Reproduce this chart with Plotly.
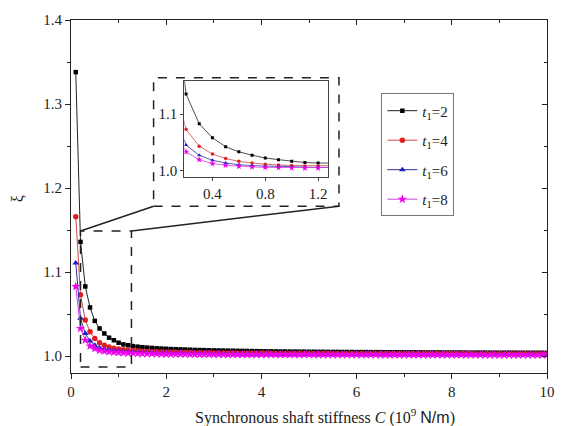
import plotly.graph_objects as go

# ---------------- data ----------------
C = [0.1, 0.2, 0.3, 0.4, 0.5, 0.6, 0.7, 0.8, 0.9, 1.0,
     1.1, 1.2, 1.3, 1.4, 1.5, 1.6, 1.7, 1.8, 1.9, 2.0,
     2.1, 2.2, 2.3, 2.4, 2.5, 2.6, 2.7, 2.8, 2.9, 3.0,
     3.1, 3.2, 3.3, 3.4, 3.5, 3.6, 3.7, 3.8, 3.9, 4.0,
     4.1, 4.2, 4.3, 4.4, 4.5, 4.6, 4.7, 4.8, 4.9, 5.0,
     5.1, 5.2, 5.3, 5.4, 5.5, 5.6, 5.7, 5.8, 5.9, 6.0,
     6.1, 6.2, 6.3, 6.4, 6.5, 6.6, 6.7, 6.8, 6.9, 7.0,
     7.1, 7.2, 7.3, 7.4, 7.5, 7.6, 7.7, 7.8, 7.9, 8.0,
     8.1, 8.2, 8.3, 8.4, 8.5, 8.6, 8.7, 8.8, 8.9, 9.0,
     9.1, 9.2, 9.3, 9.4, 9.5, 9.6, 9.7, 9.8, 9.9, 10.0]

xi_t2 = [1.338, 1.136, 1.083, 1.058, 1.042, 1.033, 1.027, 1.022, 1.019, 1.016,
         1.014, 1.013, 1.012, 1.0113, 1.0107, 1.0102, 1.0098, 1.0094, 1.0091, 1.0088,
         1.0085, 1.0083, 1.0081, 1.0079, 1.0077, 1.0075, 1.0073, 1.0072, 1.0070, 1.0069,
         1.0068, 1.0067, 1.0066, 1.0065, 1.0064, 1.0063, 1.0062, 1.0061, 1.0060, 1.0059,
         1.0058, 1.0058, 1.0057, 1.0056, 1.0056, 1.0055, 1.0055, 1.0054, 1.0054, 1.0053,
         1.0053, 1.0052, 1.0052, 1.0051, 1.0051, 1.0051, 1.0050, 1.0050, 1.0050, 1.0049,
         1.0049, 1.0049, 1.0048, 1.0048, 1.0048, 1.0047, 1.0047, 1.0047, 1.0047, 1.0046,
         1.0046, 1.0046, 1.0046, 1.0045, 1.0045, 1.0045, 1.0045, 1.0044, 1.0044, 1.0044,
         1.0044, 1.0044, 1.0043, 1.0043, 1.0043, 1.0043, 1.0043, 1.0042, 1.0042, 1.0042,
         1.0042, 1.0042, 1.0042, 1.0041, 1.0041, 1.0041, 1.0041, 1.0041, 1.0041, 1.0040]

xi_t4 = [1.166, 1.073, 1.043, 1.029, 1.021, 1.016, 1.013, 1.011, 1.0095, 1.0085,
         1.0078, 1.0072, 1.0067, 1.0063, 1.0060, 1.0057, 1.0054, 1.0052, 1.0050, 1.0048,
         1.0047, 1.0046, 1.0045, 1.0044, 1.0043, 1.0042, 1.0041, 1.0040, 1.0040, 1.0039,
         1.0038, 1.0038, 1.0037, 1.0037, 1.0036, 1.0036, 1.0035, 1.0035, 1.0035, 1.0034,
         1.0034, 1.0034, 1.0033, 1.0033, 1.0033, 1.0032, 1.0032, 1.0032, 1.0032, 1.0031,
         1.0031, 1.0031, 1.0031, 1.0031, 1.0030, 1.0030, 1.0030, 1.0030, 1.0030, 1.0030,
         1.0030, 1.0030, 1.0029, 1.0029, 1.0029, 1.0029, 1.0029, 1.0029, 1.0029, 1.0029,
         1.0029, 1.0029, 1.0028, 1.0028, 1.0028, 1.0028, 1.0028, 1.0028, 1.0028, 1.0028,
         1.0028, 1.0028, 1.0028, 1.0028, 1.0027, 1.0027, 1.0027, 1.0027, 1.0027, 1.0027,
         1.0027, 1.0027, 1.0027, 1.0027, 1.0027, 1.0026, 1.0026, 1.0026, 1.0026, 1.0026]

xi_t6 = [1.111, 1.045, 1.027, 1.018, 1.013, 1.010, 1.0085, 1.0075, 1.0068, 1.0062,
         1.0057, 1.0053, 1.0050, 1.0047, 1.0045, 1.0043, 1.0041, 1.0039, 1.0038, 1.0037,
         1.0036, 1.0035, 1.0034, 1.0033, 1.0032, 1.0032, 1.0031, 1.0031, 1.0030, 1.0030,
         1.0029, 1.0029, 1.0028, 1.0028, 1.0028, 1.0027, 1.0027, 1.0027, 1.0026, 1.0026,
         1.0026, 1.0026, 1.0025, 1.0025, 1.0025, 1.0025, 1.0025, 1.0025, 1.0025, 1.0025,
         1.0025, 1.0025, 1.0024, 1.0024, 1.0024, 1.0024, 1.0024, 1.0024, 1.0024, 1.0024,
         1.0024, 1.0024, 1.0024, 1.0023, 1.0023, 1.0023, 1.0023, 1.0023, 1.0023, 1.0023,
         1.0023, 1.0023, 1.0023, 1.0022, 1.0022, 1.0022, 1.0022, 1.0022, 1.0022, 1.0022,
         1.0022, 1.0022, 1.0022, 1.0022, 1.0022, 1.0021, 1.0021, 1.0021, 1.0021, 1.0021,
         1.0021, 1.0021, 1.0021, 1.0021, 1.0021, 1.0021, 1.0020, 1.0020, 1.0020, 1.0020]

xi_t8 = [1.083, 1.033, 1.019, 1.012, 1.009, 1.007, 1.006, 1.0052, 1.0047, 1.0043,
         1.0040, 1.0037, 1.0035, 1.0033, 1.0031, 1.0030, 1.0029, 1.0028, 1.0027, 1.0026,
         1.0025, 1.0025, 1.0024, 1.0024, 1.0023, 1.0023, 1.0022, 1.0022, 1.0022, 1.0021,
         1.0021, 1.0021, 1.0020, 1.0020, 1.0020, 1.0020, 1.0020, 1.0020, 1.0020, 1.0020,
         1.0020, 1.0019, 1.0019, 1.0019, 1.0019, 1.0019, 1.0019, 1.0019, 1.0019, 1.0019,
         1.0019, 1.0018, 1.0018, 1.0018, 1.0018, 1.0018, 1.0018, 1.0018, 1.0018, 1.0018,
         1.0018, 1.0018, 1.0018, 1.0018, 1.0017, 1.0017, 1.0017, 1.0017, 1.0017, 1.0017,
         1.0017, 1.0017, 1.0017, 1.0017, 1.0017, 1.0016, 1.0016, 1.0016, 1.0016, 1.0016,
         1.0016, 1.0016, 1.0016, 1.0016, 1.0016, 1.0016, 1.0015, 1.0015, 1.0015, 1.0015,
         1.0015, 1.0015, 1.0015, 1.0015, 1.0015, 1.0015, 1.0015, 1.0015, 1.0015, 1.0015]

series_names = ["<i>t</i><sub>1</sub>=2", "<i>t</i><sub>1</sub>=4",
                "<i>t</i><sub>1</sub>=6", "<i>t</i><sub>1</sub>=8"]
series_values = [xi_t2, xi_t4, xi_t6, xi_t8]
line_colors = ["#222222", "#d04848", "#3030a0", "#d040e0"]
marker_colors = ["#000000", "#e02020", "#2020c0", "#ee00ee"]
marker_symbols = ["square", "circle", "triangle-up", "star"]
marker_sizes = [4.5, 5.5, 6, 7]

SERIF = "Liberation Serif, Times New Roman, serif"

fig = go.Figure()

# main traces
for i, (name, vals, lc, mc, sym, ms) in enumerate(zip(series_names, series_values, line_colors,
                                                      marker_colors, marker_symbols, marker_sizes)):
    fig.add_trace(go.Scatter(
        x=C, y=vals, mode="lines+markers", name=name, legendgroup="g%d" % i,
        line=dict(color=lc, width=1),
        marker=dict(symbol=sym, size=ms, color=mc, line=dict(width=0)),
        xaxis="x", yaxis="y"))

# inset traces
for i, (name, vals, lc, mc, sym, ms) in enumerate(zip(series_names, series_values, line_colors,
                                                      marker_colors, marker_symbols, marker_sizes)):
    fig.add_trace(go.Scatter(
        x=C, y=vals, mode="lines+markers", name=name, showlegend=False,
        legendgroup="g%d" % i,
        line=dict(color=lc, width=0.8),
        marker=dict(symbol=sym, size=max(ms - 2, 3), color=mc, line=dict(width=0)),
        xaxis="x3", yaxis="y3"))

# dummy trace for mirrored (inner-tick) top/right axes
fig.add_trace(go.Scatter(x=[None], y=[None], xaxis="x2", yaxis="y2",
                         showlegend=False, hoverinfo="skip"))

X_RANGE = [0, 10]
Y_RANGE = [0.98, 1.4]
axis_font = dict(family=SERIF, size=15, color="#222222")

fig.update_layout(
    width=567, height=426,
    margin=dict(l=71, r=16, t=17, b=53),
    paper_bgcolor="white", plot_bgcolor="white",
    showlegend=True,
    font=dict(family=SERIF, size=15, color="#222222"),
    xaxis=dict(range=X_RANGE, dtick=2, tick0=0, ticks="outside", ticklen=5,
               tickwidth=1, tickcolor="#222222", showline=True, linecolor="#222222",
               linewidth=1.2, showgrid=False, zeroline=False, tickfont=axis_font,
               minor=dict(dtick=1, tick0=0, ticks="outside", ticklen=3,
                          tickcolor="#222222"),
               domain=[0, 1]),
    yaxis=dict(range=Y_RANGE, dtick=0.1, tick0=1.0, ticks="outside", ticklen=5,
               tickwidth=1, tickcolor="#222222", showline=True, linecolor="#222222",
               linewidth=1.2, showgrid=False, zeroline=False, tickfont=axis_font,
               tickformat=".1f",
               minor=dict(dtick=0.05, tick0=1.0, ticks="outside", ticklen=3,
                          tickcolor="#222222"),
               domain=[0, 1]),
    xaxis2=dict(range=X_RANGE, overlaying="x", side="top", anchor="y2",
                dtick=2, tick0=0, ticks="inside", ticklen=5, tickcolor="#222222",
                showline=True, linecolor="#222222", linewidth=1.2,
                showticklabels=False, showgrid=False, zeroline=False,
                minor=dict(dtick=1, tick0=0, ticks="inside", ticklen=3,
                           tickcolor="#222222")),
    yaxis2=dict(range=Y_RANGE, overlaying="y", side="right", anchor="x2",
                dtick=0.1, tick0=1.0, ticks="inside", ticklen=5, tickcolor="#222222",
                showline=True, linecolor="#222222", linewidth=1.2,
                showticklabels=False, showgrid=False, zeroline=False,
                minor=dict(dtick=0.05, tick0=1.0, ticks="inside", ticklen=3,
                           tickcolor="#222222")),
    xaxis3=dict(domain=[0.238, 0.540], anchor="y3", range=[0.187, 1.275],
                tickvals=[0.4, 0.8, 1.2], ticktext=["0.4", "0.8", "1.2"],
                ticks="outside", ticklen=3, tickcolor="#444444",
                showline=True, mirror=True, linecolor="#444444", linewidth=1,
                showgrid=False, zeroline=False,
                tickfont=dict(family=SERIF, size=15, color="#222222")),
    yaxis3=dict(domain=[0.555, 0.827], anchor="x3", range=[0.988, 1.159],
                tickvals=[1.0, 1.1], ticktext=["1.0", "1.1"],
                ticks="outside", ticklen=3, tickcolor="#444444",
                showline=True, mirror=True, linecolor="#444444", linewidth=1,
                showgrid=False, zeroline=False,
                tickfont=dict(family=SERIF, size=15, color="#222222")),
    legend=dict(x=0.652, y=0.792, xanchor="left", yanchor="top",
                bgcolor="white", bordercolor="#777777", borderwidth=1,
                font=dict(family=SERIF, size=15, color="#222222"),
                itemwidth=30, tracegroupgap=7),
)

# zoom window, inset frame and connecting lines (in main data coordinates)
dash_line = dict(color="#222222", width=1.5, dash="dash")
fig.add_shape(type="rect", xref="x", yref="y", x0=0.2, x1=1.27, y0=0.987, y1=1.149,
              line=dash_line, layer="above")
fig.add_shape(type="rect", xref="x", yref="y", x0=1.735, x1=5.63, y0=1.1785, y1=1.3314,
              line=dash_line, layer="below")
fig.add_shape(type="line", xref="x", yref="y", x0=0.2, y0=1.149, x1=1.735, y1=1.1785,
              line=dict(color="#222222", width=1.5))
fig.add_shape(type="line", xref="x", yref="y", x0=1.27, y0=1.149, x1=5.63, y1=1.1785,
              line=dict(color="#222222", width=1.5))

# axis titles
fig.add_annotation(xref="paper", yref="paper", x=0.533, y=-0.123,
                   xanchor="center", yanchor="middle", showarrow=False,
                   text="Synchronous shaft stiffness <i>C</i> (10<sup>9</sup> "
                        "<span style=\"font-family:Liberation Sans\">N/m</span>)",
                   font=dict(family=SERIF, size=16, color="#222222"))
fig.add_annotation(xref="paper", yref="paper", x=-0.112, y=0.494,
                   xanchor="center", yanchor="middle", showarrow=False,
                   text="ξ", textangle=-90,
                   font=dict(family=SERIF, size=16, color="#222222"))

fig.write_html("out.html")
